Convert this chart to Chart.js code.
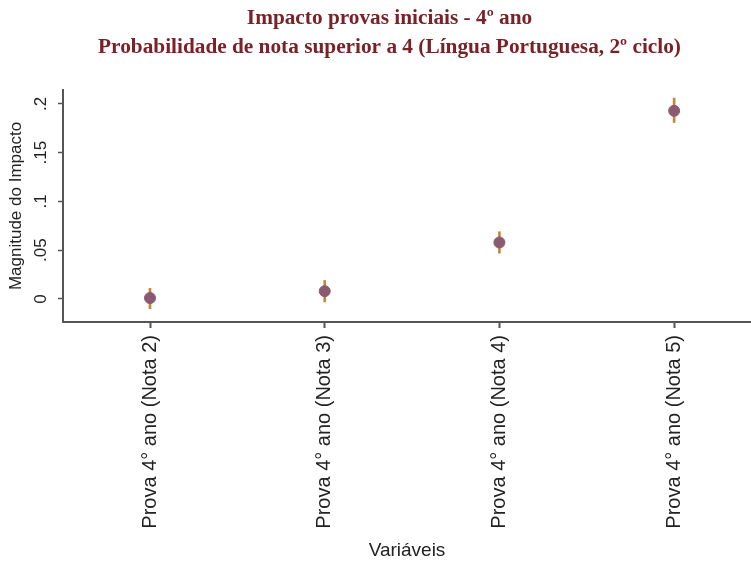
<!DOCTYPE html>
<html>
<head>
<meta charset="utf-8">
<script src="https://cdn.jsdelivr.net/npm/chart.js@4"></script>
<style>
  html, body { margin: 0; padding: 0; background: #fff; }
  #wrap { width: 751px; height: 562px; }
</style>
</head>
<body>
<div id="wrap"><canvas id="impacto"></canvas></div>
<script>
var categorias = ['Prova 4° ano (Nota 2)', 'Prova 4° ano (Nota 3)', 'Prova 4° ano (Nota 4)', 'Prova 4° ano (Nota 5)'];
var impacto = [0.001, 0.008, 0.058, 0.193];
var limInf = [-0.010, -0.003, 0.047, 0.181];
var limSup = [0.011, 0.019, 0.069, 0.206];
var yTicks = [0, 0.05, 0.1, 0.15, 0.2];
var yLabels = ['0', '.05', '.1', '.15', '.2'];

var eixo = '#555';

// the title in the original sits a little right of centre
var moveTitle = {
  id: 'moveTitle',
  afterLayout: chart => {
    if (chart.titleBlock) { chart.titleBlock.left += 14; chart.titleBlock.right += 14; }
  }
};

new Chart(document.getElementById('impacto'), {
  data: {
    datasets: [{
      type: 'scatter',
      order: 0,
      data: impacto.map((v, i) => ({x: i + 1, y: v})),
      backgroundColor: '#8c5a70',
      borderColor: '#8c5a70',
      pointRadius: 5.5,
      pointHoverRadius: 5.5
    }, {
      type: 'bar',
      order: 1,
      data: limInf.map((v, i) => ({x: i + 1, y: [v, limSup[i]]})),
      backgroundColor: '#c8843c',
      barThickness: 2
    }]
  },
  plugins: [moveTitle],
  options: {
    responsive: true,
    maintainAspectRatio: false,
    animation: false,
    layout: {padding: 0, autoPadding: false},
    plugins: {
      legend: {display: false},
      tooltip: {enabled: false},
      title: {
        display: true,
        text: ['Impacto provas iniciais - 4º ano', 'Probabilidade de nota superior a 4 (Língua Portuguesa, 2º ciclo)'],
        color: '#7a2228',
        font: {family: 'Liberation Serif', size: 21.3, weight: 'bold', lineHeight: 1.36},
        padding: {top: 4, bottom: 28}
      }
    },
    scales: {
      x: {
        type: 'linear',
        offset: false,
        min: 0.502,
        max: 4.44,
        afterBuildTicks: s => { s.ticks = categorias.map((c, i) => ({value: i + 1})); },
        afterFit: s => { s.height = 240; },
        ticks: {
          callback: v => categorias[v - 1],
          minRotation: 90, maxRotation: 90,
          autoSkip: false,
          padding: 7,
          color: '#222',
          font: {family: 'Liberation Sans', size: 20}
        },
        grid: {offset: false, drawOnChartArea: false, drawTicks: true, tickLength: 6, color: eixo, tickWidth: 2},
        border: {display: true, color: eixo, width: 2},
        title: {
          display: true, text: 'Variáveis', color: '#222',
          font: {family: 'Liberation Sans', size: 19, lineHeight: 1.2},
          padding: {top: 0, bottom: 0}
        }
      },
      y: {
        type: 'linear',
        min: -0.0236,
        max: 0.2144,
        afterBuildTicks: s => { s.ticks = yTicks.map(v => ({value: v})); },
        afterFit: s => { s.width = 63; },
        ticks: {
          callback: (v, i) => yLabels[i],
          minRotation: 90, maxRotation: 90,
          crossAlign: 'center',
          padding: 5,
          color: '#222',
          font: {family: 'Liberation Sans', size: 17}
        },
        grid: {drawOnChartArea: false, drawTicks: true, tickLength: 5, color: eixo, tickWidth: 1.5},
        border: {display: true, color: eixo, width: 2},
        title: {
          display: true, text: 'Magnitude do Impacto', color: '#222',
          font: {family: 'Liberation Sans', size: 17, lineHeight: 1.2},
          padding: {top: 6, bottom: 0}
        }
      }
    }
  }
});
</script>
</body>
</html>
